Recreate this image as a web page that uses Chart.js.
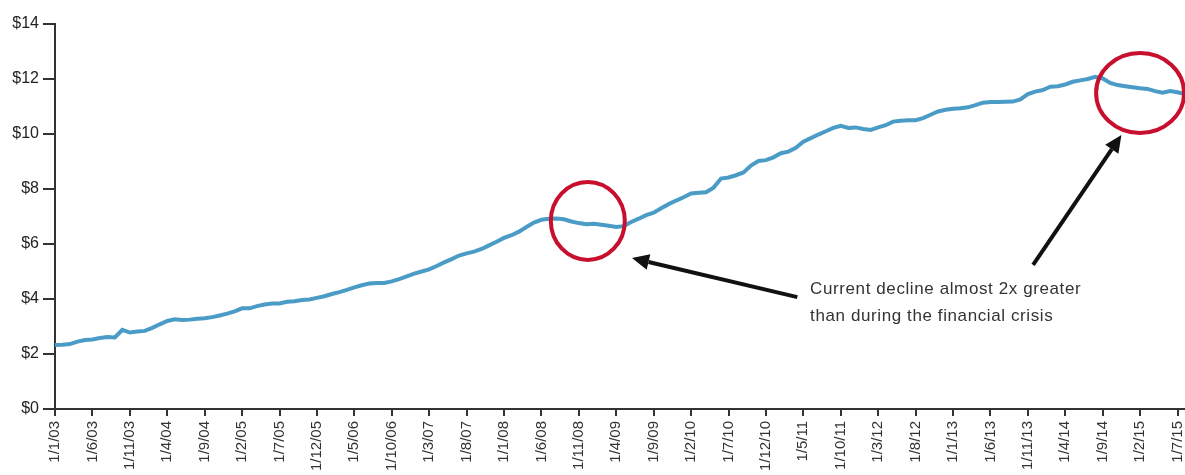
<!DOCTYPE html>
<html>
<head>
<meta charset="utf-8">
<script src="https://cdn.jsdelivr.net/npm/chart.js@4/dist/chart.umd.min.js"></script>
<style>
  html, body { margin: 0; padding: 0; background: #fff; overflow: hidden; }
  canvas { display: block; }
</style>
</head>
<body>
<canvas id="chart" width="1185" height="475"></canvas>
<script>
// monthly values, Jan 2003 .. Aug 2015
var v2003 = [2.33, 2.34, 2.36, 2.45, 2.51, 2.53, 2.58, 2.62, 2.60, 2.88, 2.78, 2.82];
var v2004 = [2.84, 2.95, 3.08, 3.20, 3.26, 3.24, 3.25, 3.28, 3.30, 3.34, 3.40, 3.47];
var v2005 = [3.55, 3.66, 3.66, 3.74, 3.80, 3.84, 3.84, 3.90, 3.92, 3.96, 3.98, 4.04];
var v2006 = [4.10, 4.18, 4.25, 4.33, 4.42, 4.50, 4.56, 4.58, 4.58, 4.64, 4.72, 4.82];
var v2007 = [4.92, 5.00, 5.08, 5.20, 5.33, 5.45, 5.58, 5.66, 5.72, 5.82, 5.95, 6.08];
var v2008 = [6.22, 6.32, 6.45, 6.62, 6.78, 6.88, 6.92, 6.93, 6.90, 6.82, 6.76, 6.72];
var v2009 = [6.74, 6.70, 6.66, 6.62, 6.65, 6.80, 6.92, 7.05, 7.14, 7.30, 7.45, 7.58];
var v2010 = [7.70, 7.84, 7.86, 7.88, 8.05, 8.38, 8.42, 8.50, 8.60, 8.85, 9.02, 9.05];
var v2011 = [9.15, 9.30, 9.36, 9.50, 9.72, 9.85, 9.98, 10.10, 10.22, 10.30, 10.22, 10.24];
var v2012 = [10.18, 10.15, 10.24, 10.32, 10.45, 10.48, 10.50, 10.50, 10.58, 10.70, 10.82, 10.88];
var v2013 = [10.92, 10.94, 10.97, 11.05, 11.14, 11.16, 11.16, 11.17, 11.18, 11.26, 11.45, 11.54];
var v2014 = [11.60, 11.72, 11.74, 11.80, 11.90, 11.95, 12.00, 12.08, 12.02, 11.86, 11.78, 11.74];
var v2015 = [11.70, 11.66, 11.64, 11.56, 11.50, 11.56, 11.52, 11.45];

var firstYear = 2003;
var labelEvery = 5;
var yTicks = [0, 2, 4, 6, 8, 10, 12, 14];

// annotations, anchored in data units (month index, value)
var circles = [[71.2, 6.84], [145, 11.49]];
var arrows = [[99.2, 4.07, 77.1, 5.49], [130.7, 5.24, 142.5, 9.96]];
var noteAt = [100.9, 4.36, 3.38];
var noteLines = ['Current decline almost 2x greater', 'than during the financial crisis'];

var values = [].concat(v2003, v2004, v2005, v2006, v2007, v2008, v2009,
    v2010, v2011, v2012, v2013, v2014, v2015);
var months = [];
for (var i = 0; i < values.length; i++) {
    var m = i % 12 + 1;
    var yy = String(firstYear + Math.floor(i / 12)).slice(2);
    months.push('1/' + m + '/' + yy);
}

var annotations = {
    id: 'annotations',
    afterDatasetsDraw: function(chart) {
        var ctx = chart.ctx;
        var xs = chart.scales.x, ys = chart.scales.y;
        ctx.save();
        // red rings
        ctx.strokeStyle = '#c8102e';
        ctx.lineWidth = 4;
        var radii = [[37, 39], [44, 40]];
        circles.forEach(function(c, k) {
            ctx.beginPath();
            ctx.ellipse(xs.getPixelForValue(c[0]), ys.getPixelForValue(c[1]),
                radii[k][0], radii[k][1], 0, 0, Math.PI * 2);
            ctx.stroke();
        });
        // arrows
        ctx.strokeStyle = '#111';
        ctx.fillStyle = '#111';
        arrows.forEach(function(a) {
            var x1 = xs.getPixelForValue(a[0]), y1 = ys.getPixelForValue(a[1]);
            var x2 = xs.getPixelForValue(a[2]), y2 = ys.getPixelForValue(a[3]);
            var ang = Math.atan2(y2 - y1, x2 - x1);
            var head = 17, half = 8;
            var bx = x2 - head * Math.cos(ang), by = y2 - head * Math.sin(ang);
            ctx.lineWidth = 4;
            ctx.beginPath();
            ctx.moveTo(x1, y1);
            ctx.lineTo(bx, by);
            ctx.stroke();
            ctx.beginPath();
            ctx.moveTo(x2, y2);
            ctx.lineTo(bx + half * Math.sin(ang), by - half * Math.cos(ang));
            ctx.lineTo(bx - half * Math.sin(ang), by + half * Math.cos(ang));
            ctx.closePath();
            ctx.fill();
        });
        // note
        ctx.fillStyle = '#333';
        ctx.font = '17px "Liberation Sans", Arial, sans-serif';
        ctx.letterSpacing = '0.6px';
        ctx.textBaseline = 'middle';
        ctx.textAlign = 'left';
        var nx = xs.getPixelForValue(noteAt[0]);
        ctx.fillText(noteLines[0], nx, ys.getPixelForValue(noteAt[1]));
        ctx.fillText(noteLines[1], nx, ys.getPixelForValue(noteAt[2]));
        ctx.restore();
    }
};

new Chart(document.getElementById('chart'), {
    type: 'line',
    data: {
        labels: months,
        datasets: [{
            data: values,
            borderColor: '#4a9cc6',
            borderWidth: 4,
            pointRadius: 0,
            tension: 0,
            fill: false
        }]
    },
    options: {
        responsive: false,
        animation: false,
        devicePixelRatio: 1,
        layout: { padding: { top: 24, left: 0, right: 0, bottom: 0 } },
        plugins: { legend: { display: false }, tooltip: { enabled: false } },
        scales: {
            x: {
                offset: false,
                grid: { drawOnChartArea: false, drawTicks: true, tickLength: 7, color: '#333', lineWidth: 2 },
                border: { color: '#333', width: 2 },
                ticks: {
                    autoSkip: false,
                    minRotation: 90,
                    maxRotation: 90,
                    padding: 5,
                    color: '#333',
                    font: { family: '"Liberation Sans", Arial, sans-serif', size: 15 },
                    callback: function(v, i) {
                        return i % labelEvery === 0 ? months[i] : null;
                    }
                },
                afterFit: function(scale) {
                    scale.height = 66;
                    scale.paddingLeft = 0;
                    scale.paddingRight = 0;
                }
            },
            y: {
                min: yTicks[0],
                max: yTicks[yTicks.length - 1],
                grid: { drawOnChartArea: false, drawTicks: true, tickLength: 12, color: '#333', lineWidth: 2 },
                border: { color: '#333', width: 2 },
                ticks: {
                    stepSize: 2,
                    padding: 4,
                    color: '#222',
                    font: { family: '"Liberation Sans", Arial, sans-serif', size: 16 },
                    callback: function(v) { return '$' + v; }
                },
                afterFit: function(scale) {
                    scale.width = 55;
                    scale.paddingTop = 0;
                    scale.paddingBottom = 0;
                }
            }
        }
    },
    plugins: [annotations]
});
</script>
</body>
</html>
